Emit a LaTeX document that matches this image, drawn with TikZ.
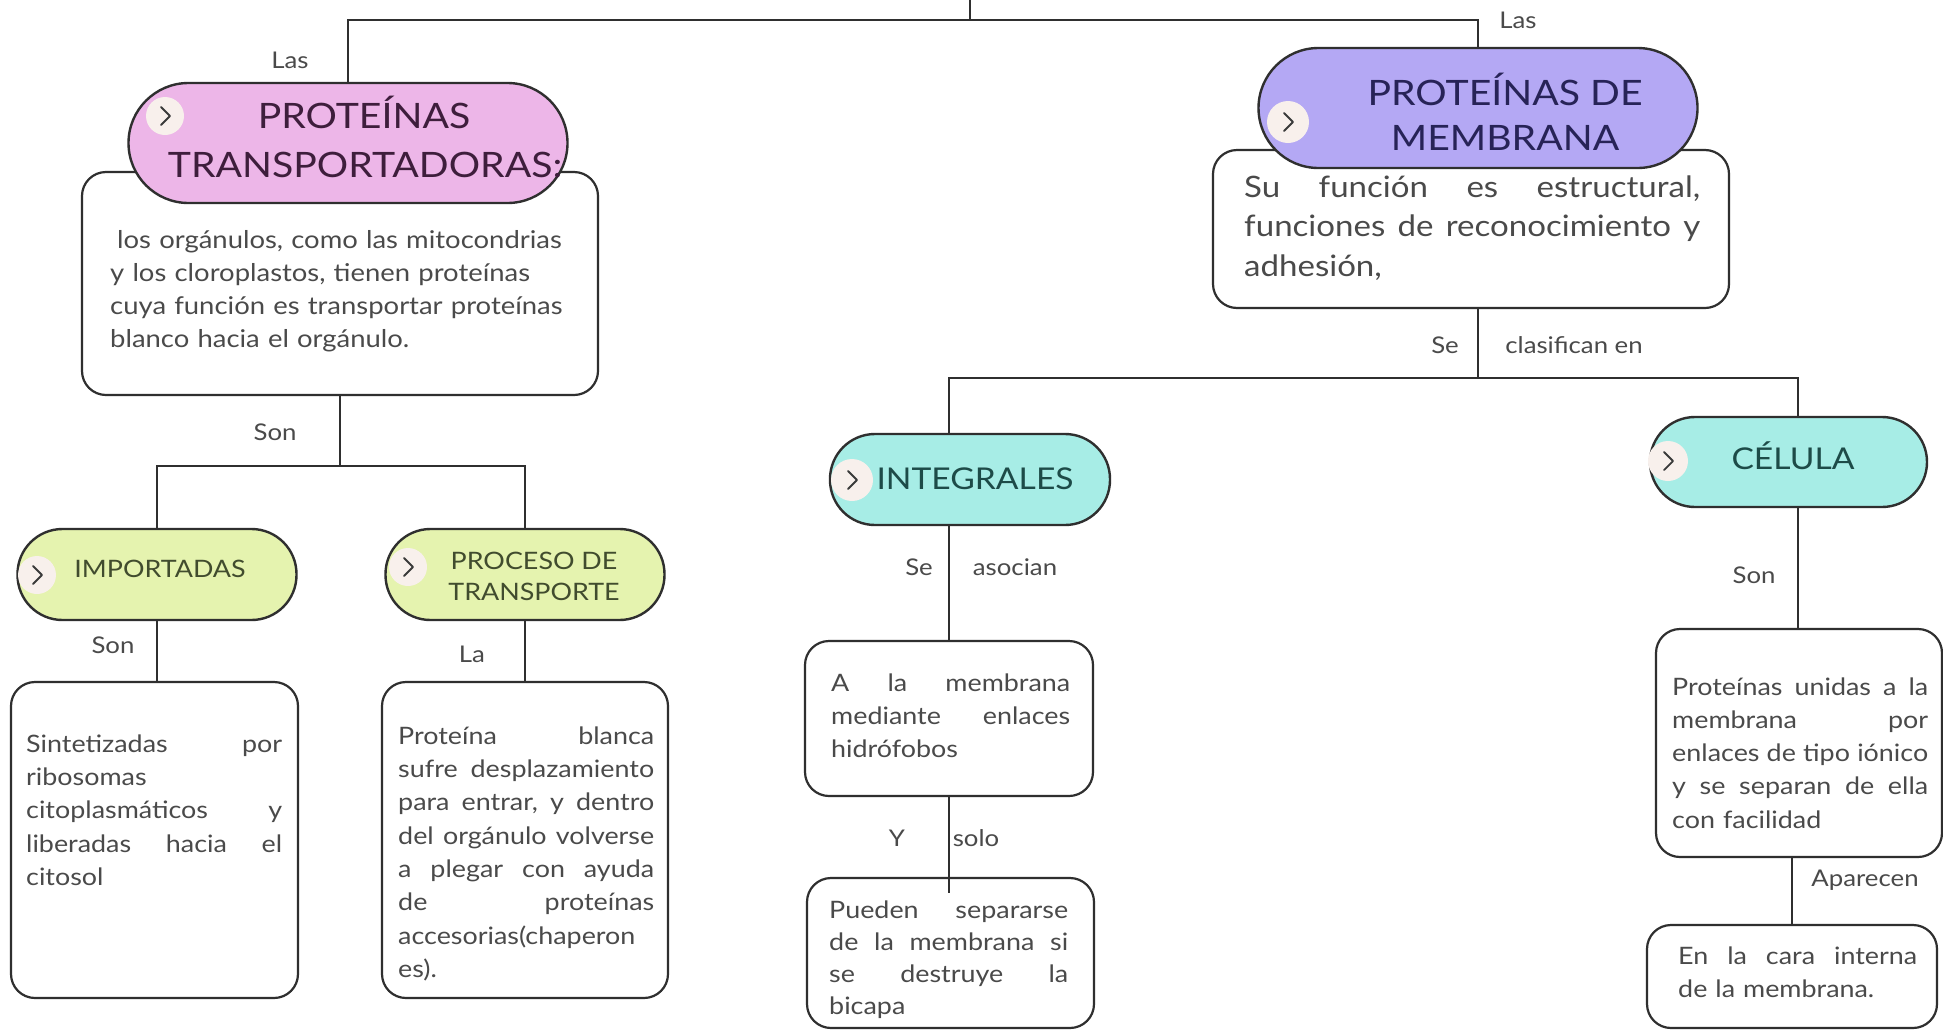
\documentclass[tikz,border=0pt]{standalone}
\usepackage{fontspec}
\setmainfont{Lato}[FakeStretch=1.12]
\definecolor{lineC}{HTML}{2F2F2F}
\definecolor{textC}{HTML}{4A4A4A}
\definecolor{labelC}{HTML}{4A4A4A}
\definecolor{pinkF}{HTML}{EDB6E8}
\definecolor{pinkT}{HTML}{3E1E3C}
\definecolor{purpF}{HTML}{B4A8F4}
\definecolor{purpT}{HTML}{272357}
\definecolor{greenF}{HTML}{E5F3AF}
\definecolor{greenT}{HTML}{414C2E}
\definecolor{cyanF}{HTML}{A7EDE6}
\definecolor{cyanT}{HTML}{1D4B48}
\definecolor{creamF}{HTML}{F8F0EC}
\definecolor{chevC}{HTML}{3A3A3A}
\newcommand{\jl}[2]{\leavevmode\hbox to #1{#2}}
\newcommand{\fsz}[2]{\fontsize{#1}{#2}\selectfont}
\begin{document}
\begin{tikzpicture}[x=1pt,y=-1pt,
  conn/.style={draw=lineC, line width=2.4pt},
  pill/.style={draw=lineC, line width=2.4pt, rounded corners=45pt, minimum width=279pt, minimum height=91pt, inner sep=0pt},
  bigpill/.style={pill, rounded corners=60pt, minimum width=439pt, minimum height=120pt},
  wbox/.style={draw=lineC, line width=2.2pt, rounded corners=24pt, fill=white, inner sep=0pt},
  chev/.style={circle, fill=creamF, minimum size=38pt, inner sep=0pt},
  chevline/.style={draw=chevC, line width=1.8pt, line cap=round, line join=round},
  lbl/.style={text=labelC, font=\fsz{23}{28}, inner sep=0pt},
  txt/.style={text=textC, inner sep=0pt, align=left, anchor=north west},
  ptxt/.style={inner sep=0pt, anchor=base}
]
\useasboundingbox (0,0) rectangle (1943,1031);
\fill[white] (0,0) rectangle (1943,1031);

% white boxes
\node[wbox, minimum width=516pt, minimum height=223pt] (box1) at (340,283.5) {};
\node[wbox, minimum width=516pt, minimum height=158pt] (box2) at (1471,229) {};
\node[wbox, minimum width=287pt, minimum height=316pt] (sint) at (154.5,840) {};
\node[wbox, minimum width=286pt, minimum height=316pt] (prot) at (525,840) {};
\node[wbox, minimum width=288pt, minimum height=155pt] (boxA) at (949,718.5) {};
\node[wbox, minimum width=287pt, minimum height=150pt] (boxB) at (950.5,953) {};
\node[wbox, minimum width=286pt, minimum height=228pt] (boxP) at (1799,743) {};
\node[wbox, minimum width=290pt, minimum height=103pt] (boxE) at (1792,976.5) {};

% pills
\node[bigpill, fill=pinkF] (pink) at (348,143) {};
\node[bigpill, fill=purpF] (purp) at (1478,108) {};
\node[pill, fill=greenF] (imp) at (157,574.5) {};
\node[pill, fill=greenF] (proc) at (525,574.5) {};
\node[pill, fill=cyanF, minimum width=280pt] (integ) at (970,479.5) {};
\node[pill, fill=cyanF, minimum width=277pt, minimum height=90pt] (cel) at (1788.5,462) {};

% chevron circles
\node[chev] (c1) at (165,116) {};
\node[chev, minimum size=42pt] (c2) at (1288,122) {};
\node[chev] (c3) at (37,575) {};
\node[chev] (c4) at (408,567) {};
\node[chev, minimum size=42pt] (c5) at (852,480) {};
\node[chev, minimum size=40pt] (c6) at (1668,461) {};
\foreach \c in {c1,c2,c3,c4,c5,c6}{
  \draw[chevline] (\c.center) ++(-4,-9) -- ++(9,9) -- ++(-9,9);
}

% pill texts
\node[ptxt, text=pinkT, font=\fsz{35}{42}] (pk1) at (364,128) {PROTEÍNAS};
\node[ptxt, text=pinkT, font=\fsz{35}{42}] (pk2) at (365,177) {TRANSPORTADORAS:};
\node[ptxt, text=purpT, font=\fsz{35}{42}] (pu1) at (1505,105) {PROTEÍNAS DE};
\node[ptxt, text=purpT, font=\fsz{35}{42}] (pu2) at (1505,150) {MEMBRANA};
\node[ptxt, text=greenT, font=\fsz{24}{28}] (im1) at (160,577) {IMPORTADAS};
\node[ptxt, text=greenT, font=\fsz{24}{28}] (pr1) at (534,569) {PROCESO DE};
\node[ptxt, text=greenT, font=\fsz{24}{28}] (pr2) at (534,600) {TRANSPORTE};
\node[ptxt, text=cyanT, font=\fsz{30}{36}] (in1) at (975,489) {INTEGRALES};
\node[ptxt, text=cyanT, font=\fsz{30}{36}] (ce1) at (1793,469) {CÉLULA};

% box texts
\node[txt, font=\fsz{24.5}{33}, text width=520pt] (t1) at (110,223.5)
  {\noindent\rule{0pt}{1em}\hspace{7pt}los orgánulos, como las mitocondrias\\
   y los cloroplastos, tienen proteínas\\
   cuya función es transportar proteínas\\
   blanco hacia el orgánulo.};
\node[txt, font=\fsz{29.5}{39.5}, text width=470pt] (t2) at (1244,167.5)
  {\noindent\rule{0pt}{1em}\jl{456pt}{Su\hfill función\hfill es\hfill estructural,}\\
   \jl{456pt}{funciones\hfill de\hfill reconocimiento\hfill y}\\
   adhesión,};
\node[txt, font=\fsz{24}{33.3}, text width=270pt] (t3) at (26,728)
  {\noindent\rule{0pt}{1em}\jl{256pt}{Sintetizadas\hfill por}\\
   ribosomas\\
   \jl{256pt}{citoplasmáticos\hfill y}\\
   \jl{256pt}{liberadas\hfill hacia\hfill el}\\
   citosol};
\node[txt, font=\fsz{24}{33.3}, text width=270pt] (t4) at (398,720)
  {\noindent\rule{0pt}{1em}\jl{256pt}{Proteína\hfill blanca}\\
   \jl{256pt}{sufre\hfill desplazamiento}\\
   \jl{256pt}{para\hfill entrar,\hfill y\hfill dentro}\\
   \jl{256pt}{del\hfill orgánulo\hfill volverse}\\
   \jl{256pt}{a\hfill plegar\hfill con\hfill ayuda}\\
   \jl{256pt}{de\hfill proteínas}\\
   accesorias(chaperon\\
   es).};
\node[txt, font=\fsz{24}{33}, text width=250pt] (t5) at (831,667)
  {\noindent\rule{0pt}{1em}\jl{239pt}{A\hfill la\hfill membrana}\\
   \jl{239pt}{mediante\hfill enlaces}\\
   hidrófobos};
\node[txt, font=\fsz{24}{32}, text width=250pt] (t6) at (829,894)
  {\noindent\rule{0pt}{1em}\jl{239pt}{Pueden\hfill separarse}\\
   \jl{239pt}{de\hfill la\hfill membrana\hfill si}\\
   \jl{239pt}{se\hfill destruye\hfill la}\\
   bicapa};
\node[txt, font=\fsz{24}{33.2}, text width=265pt] (t7) at (1672,671)
  {\noindent\rule{0pt}{1em}\jl{256pt}{Proteínas\hfill unidas\hfill a\hfill la}\\
   \jl{256pt}{membrana\hfill por}\\
   \jl{256pt}{enlaces\hfill de\hfill tipo\hfill iónico}\\
   \jl{256pt}{y\hfill se\hfill separan\hfill de\hfill ella}\\
   con facilidad};
\node[txt, font=\fsz{24}{33}, text width=250pt] (t8) at (1678,940)
  {\noindent\rule{0pt}{1em}\jl{239pt}{En\hfill la\hfill cara\hfill interna}\\
   de la membrana.};

% connectors
\coordinate (top) at (970,0);
\coordinate (h1) at (970,20);
\coordinate (jR) at (1478,20);
\draw[conn] (top) -- (h1);
\draw[conn] (pink.north) |- (jR) -- (purp.north);
\coordinate (j2) at (340,466);
\draw[conn] (box1.south) -- (j2);
\draw[conn] (imp.north) |- (j2) -| (proc.north);
\draw[conn] (imp.south) -- (imp.south |- sint.north);
\draw[conn] (proc.south) -- (proc.south |- prot.north);
\coordinate (j3) at (1478,378);
\coordinate (jI) at (949,378);
\coordinate (jC) at (1798,378);
\draw[conn] (box2.south -| j3) -- (j3);
\draw[conn] (jI |- integ.north) -- (jI) -- (jC) -- (jC |- cel.north);
\draw[conn] (jI |- integ.south) -- (jI |- boxA.north);
\coordinate (jP) at (949,893);
\draw[conn] (boxA.south -| jP) -- (jP);
\draw[conn] (cel.south -| jC) -- (jC |- boxP.north);
\draw[conn] (boxE.north) -- (boxE.north |- boxP.south);

% connector labels
\node[lbl] (l1) at (290,60) {Las};
\node[lbl] (l2) at (1518,20) {Las};
\node[lbl] (l3) at (275,432) {Son};
\node[lbl] (l4) at (113,645) {Son};
\node[lbl] (l5) at (472,654) {La};
\node[lbl] (l6) at (1445,345) {Se};
\node[lbl] (l7) at (1574,345) {clasifican en};
\node[lbl] (l8) at (919,567) {Se};
\node[lbl] (l9) at (1015,567) {asocian};
\node[lbl] (l10) at (897,838) {Y};
\node[lbl] (l11) at (976,838) {solo};
\node[lbl] (l12) at (1754,575) {Son};
\node[lbl] (l13) at (1865,880) {Aparecen};
\end{tikzpicture}
\end{document}
